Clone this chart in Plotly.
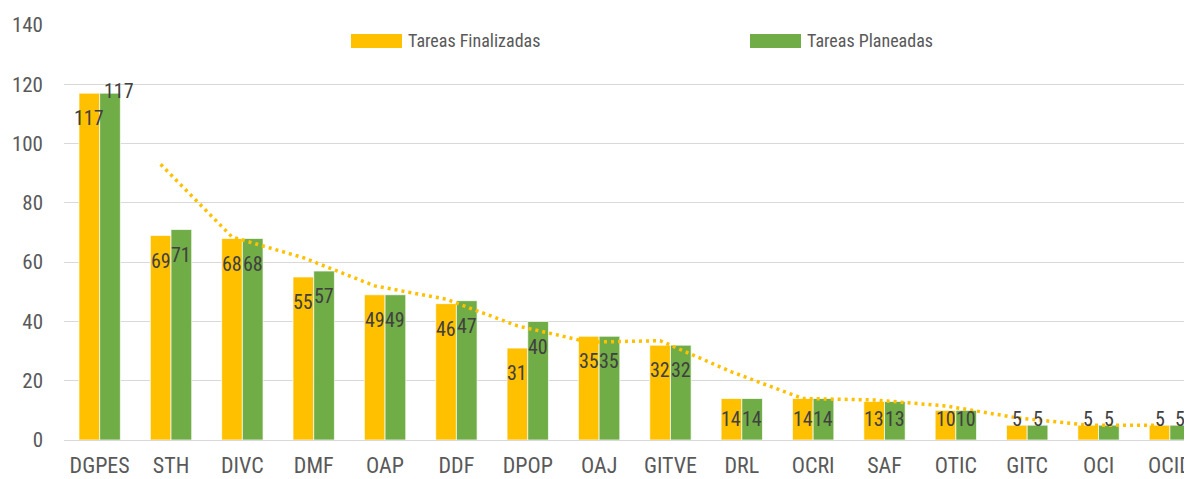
import plotly.graph_objects as go

categories = ["DGPES", "STH", "DIVC", "DMF", "OAP", "DDF", "DPOP", "OAJ",
              "GITVE", "DRL", "OCRI", "SAF", "OTIC", "GITC", "OCI", "OCID"]
finalizadas = [117, 69, 68, 55, 49, 46, 31, 35, 32, 14, 14, 13, 10, 5, 5, 5]
planeadas = [117, 71, 68, 57, 49, 47, 40, 35, 32, 14, 14, 13, 10, 5, 5, 5]
y_ticks = [0, 20, 40, 60, 80, 100, 120, 140]
series_names = ["Tareas Finalizadas", "Tareas Planeadas"]

ORANGE = "#FFC000"
GREEN = "#70AD47"
LABEL_FONT = "Liberation Sans Narrow, Arial Narrow, Roboto Condensed, Liberation Sans, Arial"

PAGE_OFF = 8  # default body margin of the html page
W, H = 1192 - PAGE_OFF, 479 - PAGE_OFF
ML, MR, MT, MB = 64 - PAGE_OFF, 0, 25 - PAGE_OFF, 39
PW, PH = W - ML - MR, H - MT - MB

bargap = 0.42
off = (1 - bargap) / 4
xs = list(range(len(categories)))

# 2-period moving average of finished tasks (Excel trendline)
ma_x = [i - off for i in xs[1:]]
ma_y = [(finalizadas[i - 1] + finalizadas[i]) / 2 for i in xs[1:]]

fig = go.Figure()
fig.add_trace(go.Bar(x=xs, y=finalizadas, name=series_names[0],
                     marker=dict(color=ORANGE, line=dict(color="rgba(255,255,255,0.7)", width=1)),
                     showlegend=False))
fig.add_trace(go.Bar(x=xs, y=planeadas, name=series_names[1],
                     marker=dict(color=GREEN, line=dict(color="rgba(255,255,255,0.7)", width=1)),
                     showlegend=False))
fig.add_trace(go.Scatter(x=ma_x, y=ma_y, mode="lines", showlegend=False,
                         line=dict(color=ORANGE, width=3.5, dash="3px,4px"),
                         hoverinfo="skip"))

lab_font = dict(family=LABEL_FONT, size=20, color="#404040")
annotations = []
for i, v in enumerate(finalizadas):
    annotations.append(dict(x=i - off, y=max(v - 8.5, 7), text=str(v), showarrow=False,
                            xref="x", yref="y", yanchor="middle", font=lab_font))
for i, v in enumerate(planeadas):
    if i == 0:
        annotations.append(dict(x=i + off + 0.13, y=v + 0.7, text=str(v), showarrow=False,
                                xref="x", yref="y", yanchor="middle", font=lab_font))
    else:
        annotations.append(dict(x=i + off, y=max(v - 8.5, 7), text=str(v), showarrow=False,
                                xref="x", yref="y", yanchor="middle", font=lab_font))

# custom legend (wide swatches like the original); positions given in page pixels
def px_x(p):
    return (p - PAGE_OFF - ML) / PW

def px_y(p):
    return (H - MB - (p - PAGE_OFF)) / PH

shapes = []
legend_left = [351, 750]
for name, color, lx in zip(series_names, [ORANGE, GREEN], legend_left):
    shapes.append(dict(type="rect", xref="paper", yref="paper",
                       x0=px_x(lx), x1=px_x(lx + 51), y0=px_y(48), y1=px_y(34),
                       fillcolor=color, line=dict(width=0)))
    annotations.append(dict(x=px_x(lx + 55), y=px_y(41), xref="paper", yref="paper",
                            text=name, showarrow=False, xanchor="left", yanchor="middle",
                            font=dict(family=LABEL_FONT, size=18, color="#595959")))

fig.update_layout(
    width=W, height=H,
    margin=dict(l=ML, r=MR, t=MT, b=MB, autoexpand=False),
    paper_bgcolor="white", plot_bgcolor="white",
    barmode="group", bargap=bargap, bargroupgap=0,
    showlegend=False,
    annotations=annotations, shapes=shapes,
    xaxis=dict(tickmode="array", tickvals=xs, ticktext=categories,
               range=[-0.5, 15.31], showgrid=False, zeroline=False, showline=False,
               ticks="", ticklabelstandoff=10, automargin=False,
               ticklabeloverflow="allow",
               tickfont=dict(family=LABEL_FONT, size=22, color="#595959")),
    yaxis=dict(range=[0, 140], tickvals=y_ticks, showgrid=True, gridcolor="#D9D9D9",
               gridwidth=1.2, zeroline=True, zerolinecolor="#D9D9D9", zerolinewidth=1.2,
               showline=False, ticks="", ticklabelstandoff=20, automargin=False,
               tickfont=dict(family=LABEL_FONT, size=21, color="#595959")),
)

fig.write_html("out.html")
